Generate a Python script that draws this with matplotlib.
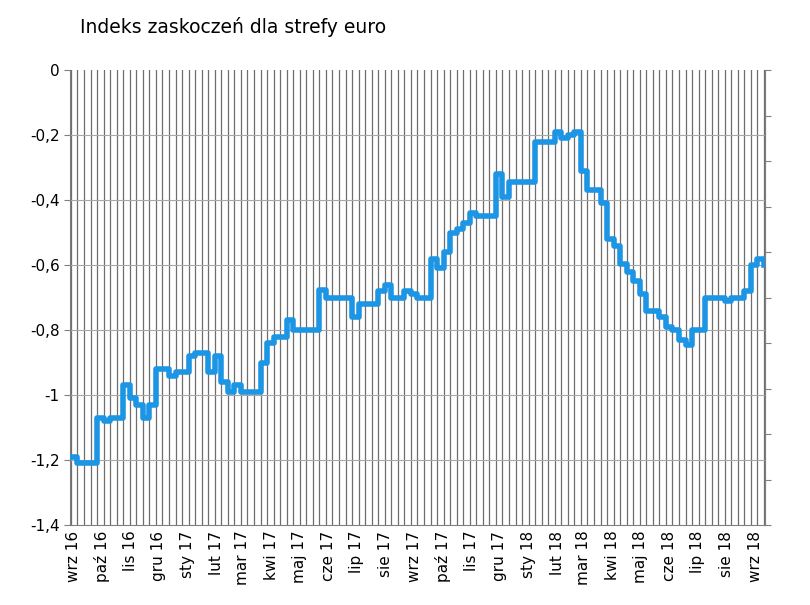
import numpy as np
import pandas as pd
import matplotlib
matplotlib.use('Agg')
import matplotlib.pyplot as plt

# Weekly surprise index readings, Sep 2016 - Sep 2018
START = "2016-09-01"
VALUES = [
    -1.19, -1.21, -1.21, -1.21, -1.07, -1.08, -1.07, -1.07, -0.97, -1.01,
    -1.03, -1.07, -1.03, -0.92, -0.92, -0.94, -0.93, -0.93, -0.88, -0.87,
    -0.87, -0.93, -0.88, -0.96, -0.99, -0.97, -0.99, -0.99, -0.99, -0.90,
    -0.84, -0.82, -0.82, -0.77, -0.80, -0.80, -0.80, -0.80, -0.675, -0.70,
    -0.70, -0.70, -0.70, -0.76, -0.72, -0.72, -0.72, -0.68, -0.66, -0.70,
    -0.70, -0.68, -0.69, -0.70, -0.70, -0.58, -0.61, -0.56, -0.50, -0.49,
    -0.47, -0.44, -0.45, -0.45, -0.45, -0.32, -0.39, -0.345, -0.345, -0.345,
    -0.345, -0.22, -0.22, -0.22, -0.19, -0.21, -0.20, -0.19, -0.31, -0.37,
    -0.37, -0.41, -0.52, -0.54, -0.595, -0.62, -0.65, -0.69, -0.74, -0.74,
    -0.76, -0.79, -0.80, -0.83, -0.845, -0.80, -0.80, -0.70, -0.70, -0.70,
    -0.71, -0.70, -0.70, -0.68, -0.60, -0.58, -0.60,
]
MONTHS_PL = ["sty", "lut", "mar", "kwi", "maj", "cze",
             "lip", "sie", "wrz", "paź", "lis", "gru"]
Y_TICKS = [-1.4, -1.2, -1.0, -0.8, -0.6, -0.4, -0.2, 0.0]
TITLE = "Indeks zaskoczeń dla strefy euro"

dates = pd.date_range(START, periods=len(VALUES), freq="7D")
month_starts = pd.date_range("2016-09-01", "2018-09-01", freq="MS")

fig = plt.figure(figsize=(8.1, 6.05), dpi=100)
ax = fig.add_axes([0.0864, 0.132, 0.858, 0.752])

# weekly vertical grid
for d in dates:
    ax.axvline(d, color='#6e6e6e', lw=0.9, zorder=1)
for y in Y_TICKS[1:-1]:
    ax.axhline(y, color='#a8a8a8', lw=0.8, zorder=1)

ax.plot(dates, VALUES, drawstyle='steps-post', color='#1b95e4', lw=4,
        zorder=3, solid_joinstyle='round')

ax.set_xlim(dates[0] - pd.Timedelta(days=1), dates[-1] + pd.Timedelta(days=1))
ax.set_ylim(-1.4, 0)
ax.set_yticks(Y_TICKS)
ax.set_yticklabels([("%g" % v).replace(".", ",") if v != 0 else "0" for v in Y_TICKS],
                   fontsize=11)
ax.set_xticks(month_starts + pd.Timedelta(days=3))
ax.set_xticklabels([f"{MONTHS_PL[d.month - 1]} {d.year % 100}" for d in month_starts],
                   rotation=90, fontsize=11)
ax.tick_params(axis='x', length=0, pad=4)
ax.tick_params(axis='y', length=4, color='#808080')

ax.spines['top'].set_visible(False)
for s in ['left', 'bottom', 'right']:
    ax.spines[s].set_color('#808080')

# right axis: unlabeled ticks
ax2 = ax.twinx()
ax2.set_ylim(0, 10)
ax2.set_yticks(np.arange(0, 11))
ax2.set_yticklabels([])
ax2.tick_params(axis='y', length=4, color='#808080')
for s in ['top', 'left', 'bottom']:
    ax2.spines[s].set_visible(False)
ax2.spines['right'].set_color('#808080')

fig.text(0.099, 0.955, TITLE, fontsize=13.5, ha='left', va='center')

fig.savefig("out.png", dpi=100, facecolor='white')
